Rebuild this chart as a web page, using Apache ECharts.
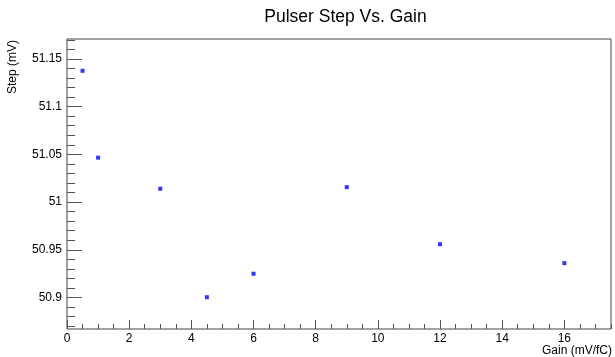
<!DOCTYPE html>
<html>
<head>
<meta charset="utf-8">
<script src="https://cdn.jsdelivr.net/npm/echarts@6/dist/echarts.min.js"></script>
<style>
  html, body { margin: 0; padding: 0; background: #fff; }
  #chart { width: 615px; height: 357px; }
</style>
</head>
<body>
<div id="chart"></div>
<script>
// gain settings (mV/fC) and measured pulser step (mV)
const gains = [0.5, 1, 3, 4.5, 6, 9, 12, 16];
const steps = [51.1375, 51.0465, 51.0139, 50.9003, 50.9249, 51.0156, 50.9558, 50.9360];

// tick labels
const xMajorTicks = [0, 2, 4, 6, 8, 10, 12, 14, 16];
const yMajorTicks = [50.9, 50.95, 51, 51.05, 51.1, 51.15];

const xMin = 0, xMax = 17.5;
const yMin = 50.867, yMax = 51.1708;

// minor ticks: every 0.5 on x, every 0.01 on y
const xMinorTicks = [];
for (let i = 0; i <= 35; i++) xMinorTicks.push(i * 0.5);
const yMinorTicks = [];
for (let i = 5087; i <= 5117; i++) yMinorTicks.push(i / 100);

const font = "'Liberation Sans', Arial, sans-serif";
const tickColor = "#555";

const chart = echarts.init(document.getElementById("chart"));

const option = {
  animation: false,
  title: {
    text: "Pulser Step Vs. Gain",
    left: 340.5,
    top: 3,
    textAlign: "center",
    textStyle: { fontFamily: font, fontSize: 17.5, fontWeight: "normal", color: "#000" },
  },
  grid: {
    left: 67,
    right: 1,
    top: 39,
    bottom: 26,
    show: true,
    borderColor: "#444",
    borderWidth: 1,
    backgroundColor: "transparent",
  },
  xAxis: [
    {
      type: "value",
      min: xMin,
      max: xMax,
      name: "Gain (mV/fC)",
      nameLocation: "end",
      nameGap: 1,
      nameMoveOverlap: false,
      nameTextStyle: {
        fontFamily: font, fontSize: 12, color: "#000",
        align: "right", verticalAlign: "top", padding: [16, 0, 0, 0],
      },
      axisLine: { show: false },
      splitLine: { show: false },
      axisTick: {
        inside: true, length: 9, customValues: xMajorTicks,
        lineStyle: { color: tickColor },
      },
      axisLabel: {
        customValues: xMajorTicks, margin: 4,
        fontFamily: font, fontSize: 12, color: "#000",
      },
    },
    {
      type: "value",
      min: xMin,
      max: xMax,
      position: "bottom",
      axisLine: { show: false },
      splitLine: { show: false },
      axisLabel: { show: false },
      axisTick: {
        inside: true, length: 5, customValues: xMinorTicks,
        lineStyle: { color: tickColor },
      },
    },
  ],
  yAxis: [
    {
      type: "value",
      min: yMin,
      max: yMax,
      name: "Step (mV)",
      nameLocation: "end",
      nameRotate: 90,
      nameGap: -1,
      nameMoveOverlap: false,
      nameTextStyle: {
        fontFamily: font, fontSize: 12, color: "#000",
        align: "right", verticalAlign: "bottom", padding: [0, 0, 48, 0],
      },
      axisLine: { show: false },
      splitLine: { show: false },
      axisTick: {
        inside: true, length: 15, customValues: yMajorTicks,
        lineStyle: { color: tickColor },
      },
      axisLabel: {
        customValues: yMajorTicks, margin: 5,
        fontFamily: font, fontSize: 12, color: "#000",
      },
    },
    {
      type: "value",
      min: yMin,
      max: yMax,
      position: "left",
      axisLine: { show: false },
      splitLine: { show: false },
      axisLabel: { show: false },
      axisTick: {
        inside: true, length: 8, customValues: yMinorTicks,
        lineStyle: { color: tickColor },
      },
    },
  ],
  series: [
    {
      type: "scatter",
      xAxisIndex: 0,
      yAxisIndex: 0,
      data: gains.map((g, i) => [g, steps[i]]),
      symbol: "rect",
      symbolSize: 4,
      itemStyle: { color: "#0000ff" },
    },
  ],
};

chart.setOption(option);
</script>
</body>
</html>
